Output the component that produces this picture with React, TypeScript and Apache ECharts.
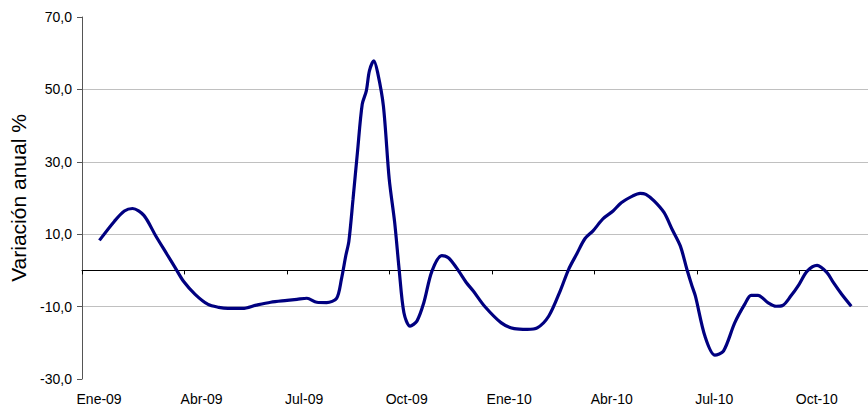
import React, { useEffect, useRef } from "react";
import * as echarts from "echarts";

const monthLabels = [
  "Ene-09", "Feb-09", "Mar-09", "Abr-09", "May-09", "Jun-09", "Jul-09", "Ago-09",
  "Sep-09", "Oct-09", "Nov-09", "Dic-09", "Ene-10", "Feb-10", "Mar-10", "Abr-10",
  "May-10", "Jun-10", "Jul-10", "Ago-10", "Sep-10", "Oct-10", "Nov-10",
];

// position of each observation, in months from the start of Ene-09
const obsMonth = [
  0.51, 0.95, 1.24, 1.48, 1.81, 2.16, 2.49, 2.73, 2.97, 3.31, 3.69, 4.0, 4.27, 4.7,
  5.1, 5.52, 6.0, 6.29, 6.58, 6.87, 7.16, 7.45, 7.59, 7.72, 7.81, 7.93, 8.06, 8.2,
  8.32, 8.41, 8.54, 8.65, 8.82, 8.99, 9.15, 9.28, 9.42, 9.6, 9.8, 10.0, 10.24, 10.53,
  10.72, 10.96, 11.25, 11.45, 11.78, 12.27, 12.65, 13.03, 13.32, 13.66, 14.0, 14.24,
  14.48, 14.72, 14.96, 15.25, 15.54, 15.78, 16.12, 16.33, 16.5, 16.74, 17.03, 17.27,
  17.51, 17.7, 17.85, 17.95, 18.23, 18.52, 18.77, 19.1, 19.39, 19.58, 19.78, 20.07,
  20.31, 20.5, 20.74, 20.98, 21.22, 21.51, 21.8, 21.99, 22.23, 22.51,
];

// variación anual %
const obsValue = [
  8.3, 13.6, 16.4, 17.1, 15.2, 9.5, 4.4, 0.7, -3.0, -6.6, -9.4, -10.2, -10.5, -10.5,
  -9.6, -8.8, -8.3, -8.0, -7.7, -8.8, -8.9, -7.7, -2.5, 4.1, 8.1, 19.6, 32.6, 45.9,
  49.6, 55.1, 57.9, 54.7, 45.4, 25.2, 13.2, 0.3, -11.7, -15.4, -14.0, -9.0, -0.2, 4.1,
  3.5, 0.7, -3.4, -5.7, -9.9, -14.5, -16.1, -16.3, -15.9, -12.6, -5.5, 0.3,
  4.6, 8.8, 11.0, 14.3, 16.4, 18.7, 20.6, 21.3, 21.0, 19.2, 16.0, 11.3,
  6.7, 0.3, -4.3, -7.1, -18.2, -23.4, -22.3, -14.5, -9.4, -6.9, -6.9, -8.9,
  -9.9, -9.7, -7.1, -3.9, -0.2, 1.4, -0.6, -3.4, -6.6, -9.9,
];

const yTicks = { min: -30, max: 70, interval: 20 };

export default function App() {
  const ref = useRef<HTMLDivElement>(null);

  useEffect(() => {
    if (!ref.current) return;
    const chart = echarts.init(ref.current, undefined, { renderer: "svg" });
    const font = "'Liberation Sans', Arial, sans-serif";
    const data = obsMonth.map((m, i) => [m, obsValue[i]]);
    chart.setOption({
      animation: false,
      backgroundColor: "#ffffff",
      grid: { left: 82, top: 17, bottom: 29, right: -10, containLabel: false },
      xAxis: [
        {
          type: "value",
          min: 0,
          max: monthLabels.length,
          interval: 3,
          position: "bottom",
          axisLine: { show: true, onZero: true, lineStyle: { color: "#000000", width: 1 } },
          axisTick: { show: true, length: 4, lineStyle: { color: "#000000" } },
          axisLabel: { show: false },
          splitLine: { show: false },
        },
        {
          type: "category",
          data: monthLabels,
          boundaryGap: true,
          position: "bottom",
          axisLine: { show: false, onZero: false },
          axisTick: { show: false },
          axisLabel: {
            interval: 2,
            margin: 13,
            color: "#000000",
            fontSize: 14,
            fontFamily: font,
          },
          splitLine: { show: false },
        },
      ],
      yAxis: {
        type: "value",
        min: yTicks.min,
        max: yTicks.max,
        interval: yTicks.interval,
        name: "Variación anual %",
        nameLocation: "middle",
        nameGap: 50,
        nameTextStyle: { fontSize: 21, fontFamily: font, color: "#000000" },
        axisLine: { show: true, onZero: false, lineStyle: { color: "#555555", width: 1 } },
        axisTick: { show: true, length: 5, lineStyle: { color: "#555555" } },
        axisLabel: {
          margin: 10,
          color: "#000000",
          fontSize: 14,
          fontFamily: font,
          formatter: (v: number) => v.toFixed(1).replace(".", ","),
        },
        splitLine: {
          show: true,
          showMinLine: false,
          showMaxLine: false,
          lineStyle: { color: "#c0c0c0", width: 1 },
        },
      },
      series: [
        {
          type: "line",
          xAxisIndex: 0,
          data,
          smooth: 0.3,
          showSymbol: false,
          symbol: "none",
          lineStyle: { color: "#000080", width: 3.2 },
          z: 5,
        },
      ],
    });
    return () => chart.dispose();
  }, []);

  return (
    <div
      ref={ref}
      style={{ position: "fixed", left: 0, top: 0, width: 868, height: 408 }}
    />
  );
}
